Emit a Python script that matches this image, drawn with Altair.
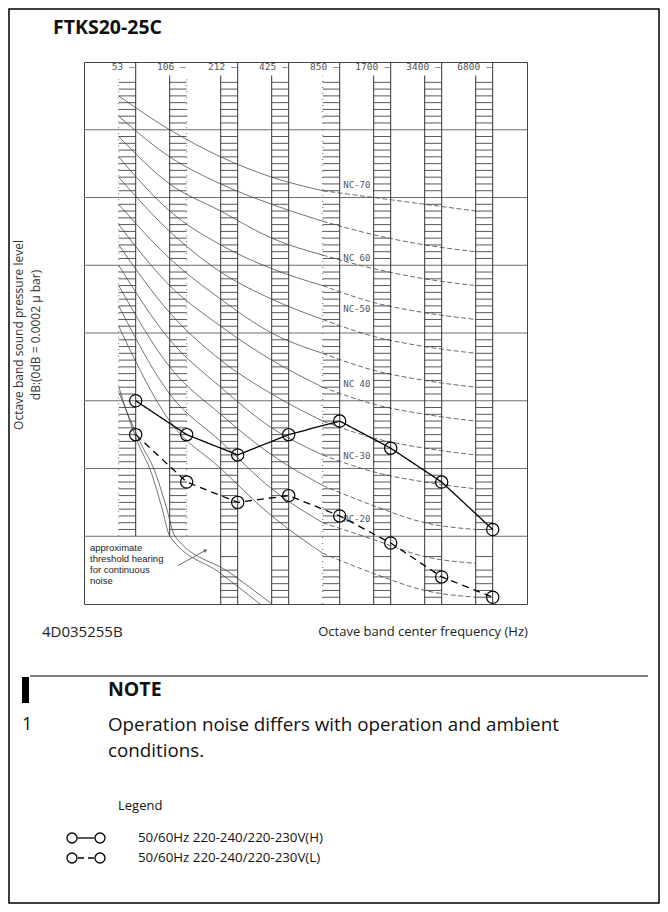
import altair as alt
import pandas as pd

# ---------------- data ----------------
bands = ["63", "125", "250", "500", "1000", "2000", "4000", "8000"]
band_edges = ["53", "106", "212", "425", "850", "1700", "3400", "6800"]
series_h = "50/60Hz 220-240/220-230V(H)"
series_l = "50/60Hz 220-240/220-230V(L)"
high_db = [40, 35, 32, 35, 37, 33, 28, 21]
low_db = [35, 28, 25, 26, 23, 19, 14, 11]

grid_db = [20, 30, 40, 50, 60, 70, 80]

# NC curves, values at the left edge of each octave column
nc_names = ["NC-70", "NC-65", "NC-60", "NC-55", "NC-50", "NC-45",
            "NC-40", "NC-35", "NC-30", "NC-25", "NC-20", "NC-15"]
nc_70 = [85, 80, 76, 73, 71, 70, 69, 68]
nc_65 = [82, 76, 72, 69, 66.5, 64.5, 63, 62]
nc_60 = [79, 72, 68, 64, 61.5, 59.5, 58, 57]
nc_55 = [76, 68, 63, 59.5, 57, 54.5, 53, 52]
nc_50 = [73, 65, 59, 55, 52, 49.5, 48, 47]
nc_45 = [69, 61, 55, 50, 47, 44.5, 43, 42]
nc_40 = [66, 57, 51, 46, 42, 39.5, 38, 37]
nc_35 = [63, 53, 46, 41, 37, 34.5, 33, 32]
nc_30 = [60, 49, 42, 36, 32, 29.5, 28, 27]
nc_25 = [57, 45, 38, 32, 27.5, 24.5, 22, 21]
nc_20 = [54, 41, 34, 27, 22, 19.5, 17, 16]
nc_15 = [51, 37, 30, 23, 17.5, 14.5, 12, 11]
nc_values = [nc_70, nc_65, nc_60, nc_55, nc_50, nc_45,
             nc_40, nc_35, nc_30, nc_25, nc_20, nc_15]

nc_label_text = ["NC-70", "NC 60", "NC-50", "NC 40", "NC-30", "NC-20"]
nc_label_db = [71.8, 61.1, 53.6, 42.5, 31.9, 22.5]

# threshold-of-hearing curves (octave position, dB)
thr_a_pos = [-0.33, 0.03, 0.31, 0.51, 0.67, 1.65, 2.44]
thr_a_db = [42, 34, 29.3, 24.3, 20, 14.6, 10]
thr_b_pos = [-0.33, 0.08, 0.39, 0.60, 0.77, 1.85, 2.67]
thr_b_db = [41.2, 34, 29.3, 24.3, 20, 14.6, 10]

thr_note = ["approximate", "threshold hearing", "for continuous", "noise"]
thr_note_db = [18.2, 16.62, 15.04, 13.46]

# ladder rungs in each octave column
rungs_upper = [v for v in range(21, 88) if v % 10 != 0]
rungs_lower = [11, 12, 13, 14, 15, 17]

# ---------------- tables ----------------
W, H = 443, 542
xs = alt.Scale(domain=[-1.0137, 7.6725], nice=False, zero=False)
ys = alt.Scale(domain=[10, 90], nice=False, zero=False)


def X(f="pos"):
    return alt.X(f"{f}:Q", scale=xs, axis=None)


def Y(f="db"):
    return alt.Y(f"{f}:Q", scale=ys, axis=None)


meas = pd.DataFrame(
    [{"series": series_h, "pos": i, "db": v, "band": bands[i]} for i, v in enumerate(high_db)]
    + [{"series": series_l, "pos": i, "db": v, "band": bands[i]} for i, v in enumerate(low_db)]
)

# NC curves split in a low-frequency (solid) and a high-frequency (fine dashed) part
nc_rows = []
for n, vals in zip(nc_names, nc_values):
    for i, v in enumerate(vals):
        if i <= 4:
            nc_rows.append({"nc": n + "-lo", "part": "lo", "pos": i - 1 / 3, "db": v})
        if i >= 4:
            nc_rows.append({"nc": n + "-hi", "part": "hi", "pos": i - 1 / 3, "db": v})
nc_df = pd.DataFrame(nc_rows)

thr_df = pd.DataFrame(
    [{"c": "a", "pos": p, "db": d} for p, d in zip(thr_a_pos, thr_a_db)]
    + [{"c": "b", "pos": p, "db": d} for p, d in zip(thr_b_pos, thr_b_db)]
)

rung_rows = []
for i in range(len(bands)):
    levels = rungs_upper + ([] if i < 2 else rungs_lower)
    for v in levels:
        rung_rows.append({"pl": i - 1 / 3, "pr": i, "db": v})
rung_df = pd.DataFrame(rung_rows)

col_rows = []
for i in range(len(bands)):
    lo = 20 if i < 2 else 10
    col_rows.append({"pos": i - 1 / 3, "lo": lo, "hi": 88 if i else 87.5,
                     "style": "dot" if i in (0, 4) else "solid"})
    col_rows.append({"pos": i, "lo": lo, "hi": 88 if i == 1 else 90,
                     "style": "dot" if i == 1 else "solid"})
col_df = pd.DataFrame(col_rows)

edge_df = pd.DataFrame({"pos": list(range(8)), "db": [89.25] * 8,
                        "txt": [e + " \u2014" for e in band_edges]})
nc_lab_df = pd.DataFrame({"pos": [4.07] * len(nc_label_text), "db": nc_label_db,
                          "txt": nc_label_text})
grid_df = pd.DataFrame({"db": grid_db})
thr_txt_df = pd.DataFrame({"pos": [-0.896] * 4, "db": thr_note_db, "txt": thr_note})
one = pd.DataFrame({"a": [0]})

cad_font = "DejaVu Sans Mono"
body_font = "Open Sans"

# ---------------- layers ----------------
grid = alt.Chart(grid_df).mark_rule(color="#6e6e6e", strokeWidth=1).encode(y=Y())

rungs = alt.Chart(rung_df).mark_rule(color="#585858", strokeWidth=1).encode(
    x=X("pl"), x2="pr:Q", y=Y())

cols_solid = alt.Chart(col_df).transform_filter("datum.style == 'solid'").mark_rule(
    color="#333", strokeWidth=1).encode(x=X(), y=Y("lo"), y2="hi:Q")
cols_dot = alt.Chart(col_df).transform_filter("datum.style == 'dot'").mark_rule(
    color="#666", strokeWidth=1, strokeDash=[1, 5]).encode(x=X(), y=Y("lo"), y2="hi:Q")

nc_lo = alt.Chart(nc_df).transform_filter("datum.part == 'lo'").mark_line(
    color="#444", strokeWidth=0.75, interpolate="monotone", clip=True).encode(
    x=X(), y=Y(), detail="nc:N")
nc_hi = alt.Chart(nc_df).transform_filter("datum.part == 'hi'").mark_line(
    color="#444", strokeWidth=0.8, strokeDash=[5, 2.5], interpolate="monotone",
    clip=True).encode(x=X(), y=Y(), detail="nc:N")
thr_lines = alt.Chart(thr_df).mark_line(color="#444", strokeWidth=0.75,
                                        interpolate="monotone", clip=True).encode(
    x=X(), y=Y(), detail="c:N")

edge_labels = alt.Chart(edge_df).mark_text(
    align="right", baseline="middle", dx=-1, font=cad_font, fontSize=9.5,
    color="#555").encode(x=X(), y=Y(), text="txt:N")
nc_labels = alt.Chart(nc_lab_df).mark_text(
    align="left", baseline="middle", font=cad_font, fontSize=9,
    color="#555").encode(x=X(), y=Y(), text="txt:N")

thr_text = alt.Chart(thr_txt_df).mark_text(
    align="left", baseline="middle", font="Liberation Sans", fontSize=9.5,
    color="#222").encode(x=X(), y=Y(), text="txt:N")
arrow = alt.Chart(pd.DataFrame({"pos": [0.835], "p2": [1.39], "db": [15.7], "d2": [18.0]})).mark_rule(
    color="#444", strokeWidth=0.8).encode(x=X(), x2="p2:Q", y=Y(), y2="d2:Q")
arrow_head = alt.Chart(pd.DataFrame({"pos": [1.37], "db": [17.9]})).mark_point(
    shape="triangle-right", angle=331, size=18, filled=True, color="#444").encode(x=X(), y=Y())

data_lines = alt.Chart(meas).mark_line(color="black", strokeWidth=1.3).encode(
    x=X(), y=Y(), detail="series:N",
    strokeDash=alt.StrokeDash("series:N", legend=None,
                              scale=alt.Scale(domain=[series_h, series_l],
                                              range=[[1, 0], [7, 5]])))
data_points = alt.Chart(meas).mark_point(
    shape="circle", size=150, filled=False, color="black", strokeWidth=1.2, opacity=1).encode(
    x=alt.X("pos:Q", scale=xs, axis=alt.Axis(
        values=list(range(8)),
        labelExpr="[" + ",".join("'%s'" % b for b in bands) + "][datum.value]",
        grid=False, ticks=False, domain=False, labelPadding=8, labelFont=cad_font,
        labelFontSize=10, labelColor="#555", title=None)),
    y=alt.Y("db:Q", scale=ys, axis=alt.Axis(
        values=grid_db, grid=False, ticks=False, domain=False, labelPadding=11,
        labelFont=cad_font, labelFontSize=10, labelColor="#555", title=None)),
    tooltip=["series:N", "band:N", "db:Q"])


def txt(s, x, y, size=13, weight="normal", align="left", color="#111", angle=0):
    kw = dict(text=s, align=align, baseline="middle", font=body_font, fontSize=size,
              fontWeight=weight, color=color)
    if angle:
        kw["angle"] = angle
    return alt.Chart(one).mark_text(**kw).encode(x=alt.value(x), y=alt.value(y))


x_title = txt("Octave band center frequency (Hz)", 339, 570, size=13, align="center", color="#222")
y_title1 = txt("Octave band sound pressure level", -65.5, 273, size=12, align="center",
               color="#333", angle=270)
y_title2 = txt("dB:(0dB = 0.0002 \u03bc bar)", -48, 273, size=12, align="center",
               color="#333", angle=270)
title = txt("FTKS20-25C", -31, -34, size=19.5, weight="bold")
code = txt("4D035255B", -42, 570, size=15, color="#222")
note_rule = alt.Chart(one).mark_rule(color="black", strokeWidth=1).encode(
    x=alt.value(-54), x2=alt.value(564), y=alt.value(614))
note_bar = alt.Chart(one).mark_rule(color="black", strokeWidth=7).encode(
    x=alt.value(-58.5), y=alt.value(615), y2=alt.value(641))
note_title = txt("NOTE", 24, 628, size=19.5, weight="bold")
note_num = txt("1", -62, 662.5, size=18)
note_l1 = txt("Operation noise differs with operation and ambient", 24, 662.5, size=18.8)
note_l2 = txt("conditions.", 24, 688.5, size=18.8)
leg_title = txt("Legend", 34, 744, size=13)
leg_h = txt(series_h, 54, 776, size=13.3)
leg_l = txt(series_l, 54, 796, size=13.3)
leg_line_h = alt.Chart(one).mark_rule(color="black", strokeWidth=1.3).encode(
    x=alt.value(-6.5), x2=alt.value(10.5), y=alt.value(776))
leg_line_l = alt.Chart(one).mark_rule(color="black", strokeWidth=1.3, strokeDash=[6, 4]).encode(
    x=alt.value(-6), x2=alt.value(10), y=alt.value(796))
leg_pts = [alt.Chart(one).mark_point(shape="circle", size=100, filled=False, color="black",
                                      strokeWidth=1.3, opacity=1).encode(
    x=alt.value(px), y=alt.value(py)) for px in (-12, 16) for py in (776, 796)]
border = alt.Chart(one).mark_rect(fillOpacity=0, stroke="black", strokeWidth=1.5).encode(
    x=alt.value(-75), x2=alt.value(575), y=alt.value(-53), y2=alt.value(841))

chart = alt.layer(
    grid, rungs, cols_solid, cols_dot, nc_lo, nc_hi, thr_lines, edge_labels, nc_labels,
    thr_text, arrow, arrow_head, data_lines, data_points,
    x_title, y_title1, y_title2,
    title, code, note_rule, note_bar, note_title, note_num, note_l1, note_l2,
    leg_title, leg_h, leg_l, leg_line_h, leg_line_l, *leg_pts, border
).properties(
    width=W, height=H,
    autosize=alt.AutoSizeParams(type="none"),
    padding={"left": 76, "top": 54, "right": 133, "bottom": 300},
).configure_view(stroke="#444", strokeWidth=1)

chart.save("out.html", embed_options={"renderer": "svg", "actions": False})
